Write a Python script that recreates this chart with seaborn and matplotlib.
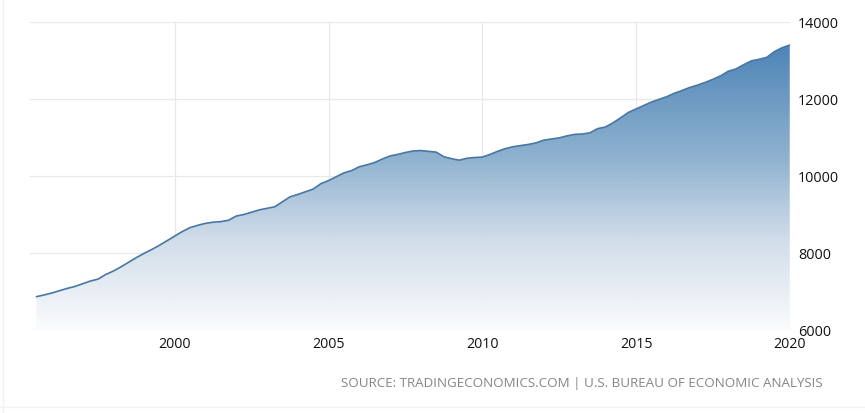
import matplotlib
matplotlib.use("Agg")
import matplotlib.pyplot as plt
import seaborn as sns
import numpy as np
import pandas as pd
from matplotlib.colors import LinearSegmentedColormap
from matplotlib.patches import Polygon
from matplotlib.lines import Line2D

# quarterly values (decimal year, value)
years = [1995.50, 1995.75,
         1996.00, 1996.25, 1996.50, 1996.75,
         1997.00, 1997.25, 1997.50, 1997.75,
         1998.00, 1998.25, 1998.50, 1998.75,
         1999.00, 1999.25, 1999.50, 1999.75,
         2000.00, 2000.25, 2000.50, 2000.75,
         2001.00, 2001.25, 2001.50, 2001.75,
         2002.00, 2002.25, 2002.50, 2002.75,
         2003.00, 2003.25, 2003.50, 2003.75,
         2004.00, 2004.25, 2004.50, 2004.75,
         2005.00, 2005.25, 2005.50, 2005.75,
         2006.00, 2006.25, 2006.50, 2006.75,
         2007.00, 2007.25, 2007.50, 2007.75,
         2008.00, 2008.25, 2008.50, 2008.75,
         2009.00, 2009.25, 2009.50, 2009.75,
         2010.00, 2010.25, 2010.50, 2010.75,
         2011.00, 2011.25, 2011.50, 2011.75,
         2012.00, 2012.25, 2012.50, 2012.75,
         2013.00, 2013.25, 2013.50, 2013.75,
         2014.00, 2014.25, 2014.50, 2014.75,
         2015.00, 2015.25, 2015.50, 2015.75,
         2016.00, 2016.25, 2016.50, 2016.75,
         2017.00, 2017.25, 2017.50, 2017.75,
         2018.00, 2018.25, 2018.50, 2018.75,
         2019.00, 2019.25, 2019.50, 2019.75,
         2020.00]
values = [6865, 6910,
          6960, 7020, 7080, 7130,
          7200, 7270, 7320, 7440,
          7530, 7640, 7760, 7880,
          7990, 8090, 8200, 8320,
          8440, 8560, 8660, 8720,
          8770, 8800, 8815, 8850,
          8960, 9000, 9060, 9120,
          9160, 9200, 9330, 9460,
          9520, 9590, 9660, 9800,
          9880, 9980, 10080, 10140,
          10240, 10290, 10350, 10440,
          10520, 10560, 10610, 10650,
          10660, 10640, 10620, 10500,
          10450, 10410, 10460, 10480,
          10490, 10560, 10640, 10710,
          10760, 10790, 10820, 10860,
          10930, 10960, 10990, 11040,
          11080, 11090, 11120, 11230,
          11270, 11380, 11510, 11650,
          11740, 11830, 11920, 11990,
          12060, 12150, 12220, 12300,
          12360, 12430, 12510, 12600,
          12720, 12780, 12890, 12990,
          13030, 13080, 13230, 13330,
          13400]
xticks = [2000, 2005, 2010, 2015, 2020]
yticks = [6000, 8000, 10000, 12000, 14000]
source = "SOURCE: TRADINGECONOMICS.COM | U.S. BUREAU OF ECONOMIC ANALYSIS"

df = pd.DataFrame({"year": years, "value": values})

sns.set_style("white")
plt.rcParams['font.family'] = ['Open Sans', 'DejaVu Sans']

fig = plt.figure(figsize=(8.65, 4.14), dpi=100)
ax = fig.add_axes([0.035, 0.2005, 0.878, 0.744])

x0, x1 = 1995.3, 2020.0
y0, y1 = 6000, 14000

# gradient area under the line
cmap = LinearSegmentedColormap.from_list(
    "te", [(0.0, "#fbfcfd"), (0.3, "#cddbe8"), (0.55, "#8cb0ce"),
           (0.9, "#4a82b5"), (1.0, "#4180b6")])
grad = np.linspace(0, 1, 256).reshape(-1, 1)
im = ax.imshow(grad, extent=[x0, x1, y0, y1], origin="lower", aspect="auto",
               cmap=cmap, zorder=1, alpha=0.96)
verts = [(df.year.iloc[0], y0)] + list(zip(df.year, df.value)) + [(df.year.iloc[-1], y0)]
poly = Polygon(verts, closed=True, facecolor="none", edgecolor="none",
               transform=ax.transData)
ax.add_patch(poly)
im.set_clip_path(poly)

sns.lineplot(data=df, x="year", y="value", ax=ax, color="#4877a6",
             linewidth=1.2, zorder=3)

ax.set_xlim(x0, x1)
ax.set_ylim(y0, y1)
ax.set_xticks(xticks)
ax.set_yticks(yticks)
ax.set_xticklabels([str(t) for t in xticks], fontsize=10.2, color="#111111")
ax.set_yticklabels([str(t) for t in yticks], fontsize=10.4, color="#111111")
ax.yaxis.tick_right()
ax.tick_params(axis="both", length=0)
ax.tick_params(axis="y", pad=6)
ax.tick_params(axis="x", pad=4)
ax.set_xlabel("")
ax.set_ylabel("")
ax.grid(True, color="#e8e8e8", linewidth=0.9, zorder=0)
ax.set_axisbelow(True)
for s in ax.spines.values():
    s.set_visible(False)

fig.text(0.9514, 0.0725, source, ha="right", va="center", fontsize=9.6,
         color="#858585")

# faint frame lines of the original widget
fig.add_artist(Line2D([0.0035, 0.0035], [0.0, 1.0], color="#f2f2f2", linewidth=1))
fig.add_artist(Line2D([0.0, 1.0], [0.014, 0.014], color="#f2f2f2", linewidth=1))

fig.savefig("out.png", dpi=100)
